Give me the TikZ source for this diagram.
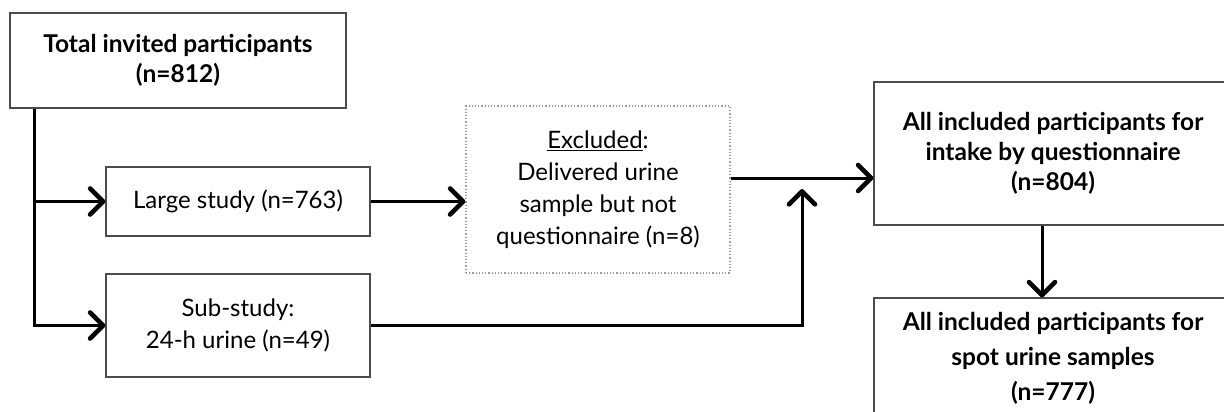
\documentclass[tikz,border=0pt]{standalone}
\usepackage{fontspec}
\setmainfont{Lato}
\usetikzlibrary{arrows.meta}

\tikzset{
  box/.style={draw=black!70, line width=1.2pt, fill=white, align=center,
    inner sep=0pt, font=\fontsize{24}{32}\selectfont},
  boldbox/.style={box, font=\fontsize{24.5}{30}\selectfont\bfseries},
  dotbox/.style={box, draw=black!40, dotted, line width=1.2pt},
  arr/.style={line width=3pt, black,
    -{Straight Barb[length=13pt, width=26pt, line width=4.6pt, round]}},
  link/.style={line width=3pt, black}
}

\begin{document}
\begin{tikzpicture}[x=1pt, y=-1pt]
  \useasboundingbox (0,0) rectangle (1224,412);
  \clip (0,0) rectangle (1224,412);

  % boxes
  \node[boldbox, minimum width=336pt, minimum height=95pt] (total) at (178,60.5)
    {Total invited participants\\(n=812)};
  \node[box, minimum width=264pt, minimum height=69pt] (large) at (238,201.5)
    {Large study (n=763)};
  \node[box, minimum width=264pt, minimum height=103pt] (sub) at (238,325.5)
    {Sub-study:\\24-h urine (n=49)};
  \node[dotbox, minimum width=264pt, minimum height=167pt] (excl) at (598,189.5)
    {\underline{Excluded}:\\Delivered urine\\sample but not\\questionnaire (n=8)};
  \node[boldbox, minimum width=358pt, minimum height=143pt] (intake) at (1053,153.5)
    {All included participants for\\intake by questionnaire\\(n=804)};
  \node[boldbox, font=\fontsize{24.5}{35}\selectfont\bfseries,
        minimum width=358pt, minimum height=120pt] (spot) at (1053,358)
    {All included participants for\\spot urine samples\\(n=777)};

  % junction points
  \coordinate (split) at (34,322);
  \coordinate (join) at (802,178);

  % connectors
  \draw[arr] (total.south -| split) |- (sub.west);
  \draw[arr] (split |- large.west) -- (large.west);
  \draw[arr] (large.east) -- (large.east -| excl.west);
  \draw[arr] (excl.east |- join) -- (join -| intake.west);
  \draw[arr] (sub.east) -| ([yshift=-11pt]join);
  \draw[arr] ([xshift=-11pt]intake.south) -- ([xshift=-11pt]spot.north);
\end{tikzpicture}
\end{document}
